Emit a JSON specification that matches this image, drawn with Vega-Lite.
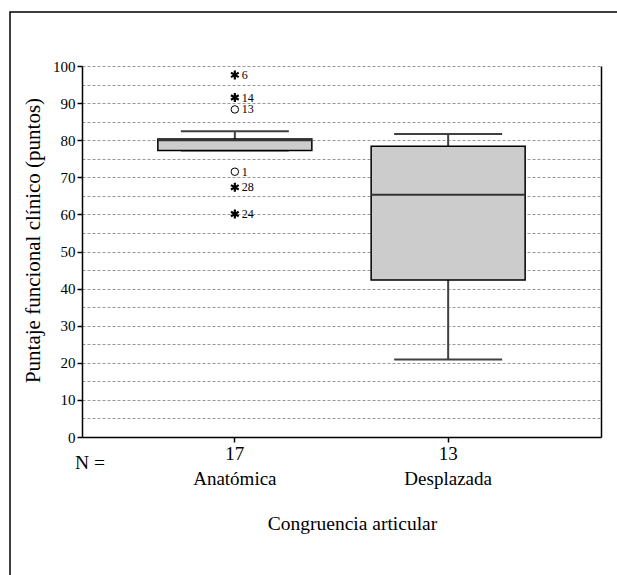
{
  "$schema": "https://vega.github.io/schema/vega-lite/v6.json",
  "autosize": {"type": "none"},
  "padding": {"left": 10, "top": 12, "right": 0, "bottom": 0},
  "width": 610,
  "height": 570,
  "background": "white",
  "config": {
    "font": "Liberation Serif",
    "view": {"stroke": "black", "strokeWidth": 1.5},
    "axis": {
      "labelFont": "Liberation Serif",
      "titleFont": "Liberation Serif",
      "labelColor": "black",
      "titleColor": "black",
      "titleFontWeight": "normal",
      "domainColor": "black",
      "tickColor": "black"
    }
  },
  "title": {
    "text": "N =",
    "orient": "top",
    "anchor": "start",
    "frame": "group",
    "offset": 0,
    "baseline": "alphabetic",
    "dx": 65,
    "dy": 476,
    "fontSize": 19.5,
    "fontWeight": "normal",
    "font": "Liberation Serif",
    "color": "black"
  },
  "datasets": {
    "cajas": [
      {"grupo": "Anatómica", "n": 17, "min": 77.2, "q1": 77.2, "mediana": 80, "q3": 80.3, "max": 82.4},
      {"grupo": "Desplazada", "n": 13, "min": 20.9, "q1": 42.3, "mediana": 65.3, "q3": 78.4, "max": 81.7}
    ],
    "atipicos": [
      {"grupo": "Anatómica", "valor": 97.6, "caso": "6", "tipo": "extremo"},
      {"grupo": "Anatómica", "valor": 91.5, "caso": "14", "tipo": "extremo"},
      {"grupo": "Anatómica", "valor": 88.3, "caso": "13", "tipo": "atípico"},
      {"grupo": "Anatómica", "valor": 71.5, "caso": "1", "tipo": "atípico"},
      {"grupo": "Anatómica", "valor": 67.3, "caso": "28", "tipo": "extremo"},
      {"grupo": "Anatómica", "valor": 60.1, "caso": "24", "tipo": "extremo"}
    ]
  },
  "resolve": {"axis": {"y": "independent"}},
  "layer": [
    {
      "data": {"name": "cajas"},
      "mark": {"type": "rule", "color": "#404040", "strokeWidth": 2},
      "encoding": {
        "x": {
          "field": "grupo",
          "type": "nominal",
          "sort": ["Anatómica", "Desplazada"],
          "scale": {"type": "band", "domain": ["Anatómica", "Desplazada"], "range": [72, 591], "paddingInner": 0, "paddingOuter": 0.2166},
          "axis": {
            "orient": "bottom",
            "offset": -145,
            "title": "Congruencia articular",
            "titleFont": "Liberation Serif",
            "titleFontSize": 19.5,
            "titlePadding": 26,
            "titleX": 342,
            "labelFont": "Liberation Serif",
            "labelFontSize": 19,
            "labelLineHeight": 25,
            "labelAngle": 0,
            "labelPadding": 2,
            "labelExpr": "[datum.label == 'Anatómica' ? '17' : '13', datum.label]",
            "tickSize": 5,
            "tickWidth": 1.5,
            "domainWidth": 1.5,
            "grid": false
          }
        },
        "y": {
          "field": "min",
          "type": "quantitative",
          "scale": {"domain": [0, 100], "range": [425, 54], "nice": false, "zero": false},
          "axis": {
            "orient": "left",
            "offset": -72,
            "values": [0, 5, 10, 15, 20, 25, 30, 35, 40, 45, 50, 55, 60, 65, 70, 75, 80, 85, 90, 95, 100],
            "labelExpr": "datum.value % 10 === 0 ? datum.label : ''",
            "labelOverlap": false,
            "labelFlush": false,
            "labelFont": "Liberation Serif",
            "labelFontSize": 15,
            "labelPadding": 2,
            "tickSize": 5,
            "tickWidth": 1.5,
            "tickOpacity": {"condition": {"test": "datum.value % 10 === 0", "value": 1}, "value": 0},
            "domainWidth": 1.5,
            "grid": true,
            "gridColor": "#999999",
            "gridDash": [3, 2],
            "gridWidth": 1,
            "title": "Puntaje funcional clínico (puntos)",
            "titleFont": "Liberation Serif",
            "titleFontSize": 21,
            "titlePadding": 9,
            "titleY": 228
          }
        },
        "y2": {"field": "max"}
      }
    },
    {
      "data": {"name": "cajas"},
      "mark": {"type": "tick", "size": 108, "thickness": 2, "color": "#404040", "opacity": 1},
      "encoding": {
        "x": {"field": "grupo", "type": "nominal"},
        "y": {"field": "max", "type": "quantitative", "axis": null}
      }
    },
    {
      "data": {"name": "cajas"},
      "mark": {"type": "tick", "size": 108, "thickness": 2, "color": "#404040", "opacity": 1},
      "encoding": {
        "x": {"field": "grupo", "type": "nominal"},
        "y": {"field": "min", "type": "quantitative", "axis": null}
      }
    },
    {
      "data": {"name": "cajas"},
      "mark": {"type": "bar", "size": 154, "fill": "#cccccc", "stroke": "black", "strokeWidth": 1.5},
      "encoding": {
        "x": {"field": "grupo", "type": "nominal"},
        "y": {
          "field": "q1",
          "type": "quantitative",
          "axis": {
            "orient": "right",
            "offset": -19,
            "labels": false,
            "ticks": false,
            "grid": false,
            "domain": true,
            "domainColor": "black",
            "domainWidth": 1.5,
            "title": null
          }
        },
        "y2": {"field": "q3"}
      }
    },
    {
      "data": {"name": "cajas"},
      "mark": {"type": "tick", "size": 154, "thickness": 2, "color": "#333333", "opacity": 1},
      "encoding": {
        "x": {"field": "grupo", "type": "nominal"},
        "y": {"field": "mediana", "type": "quantitative", "axis": null}
      }
    },
    {
      "data": {"name": "atipicos"},
      "transform": [{"filter": "datum.tipo === 'extremo'"}],
      "mark": {"type": "point", "shape": "M0,-1L0,1M-0.866,-0.5L0.866,0.5M-0.866,0.5L0.866,-0.5", "size": 80, "filled": false, "stroke": "black", "strokeWidth": 2.2, "opacity": 1},
      "encoding": {
        "x": {"field": "grupo", "type": "nominal"},
        "y": {"field": "valor", "type": "quantitative", "axis": null}
      }
    },
    {
      "data": {"name": "atipicos"},
      "transform": [{"filter": "datum.tipo === 'atípico'"}],
      "mark": {"type": "point", "shape": "circle", "size": 56, "filled": false, "stroke": "black", "strokeWidth": 1, "opacity": 1},
      "encoding": {
        "x": {"field": "grupo", "type": "nominal"},
        "y": {"field": "valor", "type": "quantitative", "axis": null}
      }
    },
    {
      "data": {"name": "atipicos"},
      "mark": {"type": "text", "align": "left", "baseline": "middle", "dx": 7, "fontSize": 12, "font": "Liberation Serif", "color": "black"},
      "encoding": {
        "x": {"field": "grupo", "type": "nominal"},
        "y": {"field": "valor", "type": "quantitative", "axis": null},
        "text": {"field": "caso"}
      }
    }
  ]
}
